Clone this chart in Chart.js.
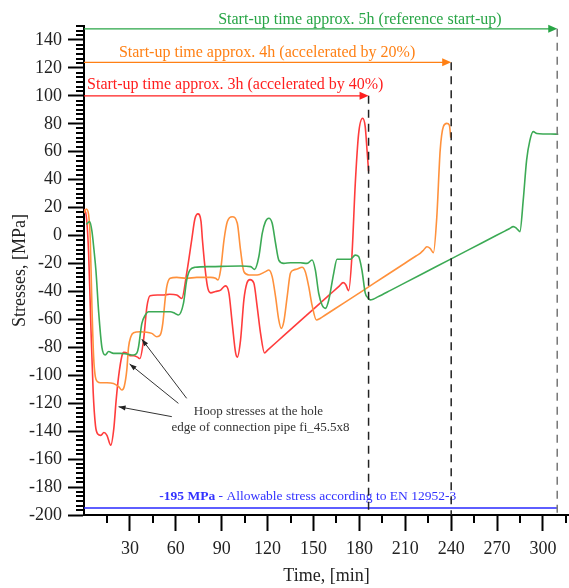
<!DOCTYPE html>
<html><head><meta charset="utf-8">
<script src="https://cdn.jsdelivr.net/npm/chart.js@4.4.0/dist/chart.umd.min.js"></script>
<style>html,body{margin:0;padding:0;background:#fff;}#wrap{width:569px;height:588px;position:relative;}</style>
</head><body><div id="wrap"><canvas id="c" width="569" height="588"></canvas></div>
<script>
// ---- data (time in min, stress in MPa) ----
const redTime = [0,1.5,3,4.5,6,7.5,9,11,13,15,17.5,19.5,21,22.6,24.8,26,28,30,32.4,35,36.5,38.9,41.1,43.2,48,52,56,60.6,63.9,67.1,70.4,72.5,74.5,76.5,77.4,79.5,81,82.8,86,89.3,91.5,92.6,94.7,96.9,99.1,100.2,102.3,104.5,106.5,108.5,111,113.2,115.4,118,120,130,145,160,167,169.3,171,173,175.1,177.3,179.5,182.1,183.8,185,186];
const redStress = [19,14,-12,-65,-112,-136,-142,-143,-141,-143,-150,-138,-118,-101,-86,-83.6,-84,-86,-86,-87,-88,-75,-51,-43,-42.5,-42.5,-42,-42.5,-45,-27,-3,12,15.5,10,-3,-27,-38,-41,-40,-39,-36.5,-36,-41,-63,-84,-87,-75,-46,-34,-31.5,-34,-51,-70,-84,-82,-72.2,-57.5,-42.8,-36,-33.7,-35,-39.4,-15,37,73,84,78,61,46];

const orangeTime = [0,1.5,3,4.1,5.2,6.3,7.4,8.9,10.7,15,19.3,22.6,24.8,26.3,28,29.1,30.6,32.4,36.7,44.3,47.6,49.8,51.5,53,54.1,56.3,60.6,67.1,73.7,82.8,86,87.6,89.3,91.5,93.7,96.9,100.2,102.3,104.5,107.8,113.2,118.6,120.8,123,125.2,127.3,128.9,130.6,132.8,134.9,137.1,139.3,142.5,144.7,146.9,149.1,151.9,154.5,157,170,190,210,217,219.7,222,224.1,226.2,228.4,230.6,232.8,234.9,237.1,238.8,239.7];
const orangeStress = [16,19,15,-3,-51,-87,-101,-104.6,-105.3,-105.3,-105.8,-108.1,-110.5,-108,-96,-80,-72.4,-69.5,-68.8,-70,-72.4,-71.2,-62.8,-46,-36.6,-30.6,-29.9,-30.6,-29.9,-29.9,-30.6,-31.8,-24.6,-3.2,10,13.5,8.8,-10.3,-25.8,-28.2,-28.2,-25.8,-24.6,-29.4,-43.7,-60.4,-66.4,-61.6,-43.7,-27,-24.6,-24,-22.7,-26,-36.6,-50,-60.4,-59.2,-57.4,-48.2,-33.9,-19.6,-14.6,-12.7,-10.3,-8,-9.1,-12.2,13.5,61,78,80.3,79,70];

const greenTime = [1.5,3.7,5.2,6.5,7.8,9.6,11.7,13.9,16.1,19.3,23.7,28,32.4,34.6,35.6,37.8,40,42.2,47.6,56.3,59.5,61.7,65,67.1,69.3,72.6,82.8,102.3,108.9,111.5,114.3,116.5,118.6,120.8,123,125.2,127.3,130.6,134.9,141.5,145.8,149.1,151.2,153.4,155.6,157.8,160,163.2,165.4,167.5,174.1,177.3,179.5,181.7,183.8,185.5,187,189,192,200,220,240,260,275,278,280.6,282.7,284.9,287.1,289.3,291.4,293.6,296,300,305,310];
const greenStress = [8,10,3,-10,-25,-55,-80,-85.5,-83,-84.3,-84.3,-84.8,-85.5,-84,-80,-63,-57,-54.5,-54.5,-54.5,-55.7,-56.8,-48.5,-32,-24.6,-22.7,-22.2,-21.8,-22.2,-24.2,-15,1.6,10,12.4,8.8,-5.5,-17.5,-19.9,-19.4,-19.5,-19.9,-17.5,-24.6,-41.3,-49.7,-52.1,-46.1,-27,-17,-17,-17,-14,-15,-25,-41,-44.5,-46,-45.5,-43.9,-39.4,-28,-16.7,-5.3,3.2,4.9,6.4,5.2,2.8,25.5,54,68,74.4,73,72.7,72.7,72.5];

const xTickLabels = [30,60,90,120,150,180,210,240,270,300];
const yTickLabels = [-200,-180,-160,-140,-120,-100,-80,-60,-40,-20,0,20,40,60,80,100,120,140];

const allowableStress = -195;
const startupEnd = [186, 240, 309.3];          // minutes: 3h, 4h, 5h
const startupLevel = [100, 124, 148];           // arrow heights (MPa)
const startupText = ["Start-up time approx. 3h (accelerated by 40%)","Start-up time approx. 4h (accelerated by 20%)","Start-up time approx. 5h (reference start-up)"];
const startupTextPos = [[2,107.8],[22.8,130.7],[87.7,154.3]];
const hoopLines = ["Hoop stresses at the hole","edge of connection pipe fi_45.5x8"];
const hoopTextPos = [[114,-126],[115.4,-137.7]];
const hoopArrows = [[57.4,-129.6,22.6,-122.5],[61.7,-120.1,29.8,-91.9],[67.1,-116.5,37.8,-74.2]];
const allowText = ["-195 MPa"," - Allowable stress according to EN 12952-3"];
const allowTextPos = [49.2,-186.9];

const SERIF = "'Liberation Serif','Times New Roman',serif";
const COL_RED = 'rgb(255,60,60)', COL_OR = 'rgb(255,145,60)', COL_GR = 'rgb(60,170,85)';
const TXT = [ 'rgb(255,30,30)', 'rgb(255,128,20)', 'rgb(40,165,70)' ];
const DASH = ['#222','#222','#777'];

function pts(t, s){ return t.map((v,i)=>({x:v,y:s[i]})); }

function arrowHead(ctx, x1,y1,x2,y2,len,half,color){
  const a = Math.atan2(y2-y1,x2-x1);
  ctx.save(); ctx.fillStyle=color; ctx.beginPath();
  ctx.moveTo(x2,y2);
  ctx.lineTo(x2-len*Math.cos(a)+half*Math.sin(a), y2-len*Math.sin(a)-half*Math.cos(a));
  ctx.lineTo(x2-len*Math.cos(a)-half*Math.sin(a), y2-len*Math.sin(a)+half*Math.cos(a));
  ctx.closePath(); ctx.fill(); ctx.restore();
}

const decor = {
  id:'decor',
  afterDatasetsDraw(chart){
    const ctx = chart.ctx, xs = chart.scales.x, ys = chart.scales.y;
    const X = v=>xs.getPixelForValue(v), Y = v=>ys.getPixelForValue(v);
    ctx.save();
    ctx.strokeStyle='rgb(40,40,255)'; ctx.lineWidth=1.5;
    ctx.beginPath(); ctx.moveTo(X(0),Y(allowableStress)); ctx.lineTo(X(startupEnd[2]),Y(allowableStress)); ctx.stroke();
    ctx.textBaseline='middle'; ctx.textAlign='left';
    ctx.fillStyle='rgb(50,50,255)';
    ctx.font = "bold 13.5px "+SERIF;
    let tx = X(allowTextPos[0]);
    ctx.fillText(allowText[0], tx, Y(allowTextPos[1]));
    tx += ctx.measureText(allowText[0]).width;
    ctx.font = "13.5px "+SERIF;
    ctx.fillText(allowText[1], tx, Y(allowTextPos[1]));
    for(let i=0;i<3;i++){
      const xe = X(startupEnd[i]), yl = Y(startupLevel[i]);
      ctx.setLineDash([8,6]); ctx.strokeStyle=DASH[i]; ctx.lineWidth=1.5;
      ctx.beginPath(); ctx.moveTo(xe,yl); ctx.lineTo(xe,Y(-200)); ctx.stroke();
      ctx.setLineDash([]);
      ctx.strokeStyle=TXT[i]; ctx.lineWidth=1.3;
      ctx.beginPath(); ctx.moveTo(X(0),yl); ctx.lineTo(xe-6,yl); ctx.stroke();
      arrowHead(ctx, X(0),yl, xe,yl, 9,4, TXT[i]);
      ctx.fillStyle=TXT[i]; ctx.font="16px "+SERIF;
      ctx.fillText(startupText[i], X(startupTextPos[i][0]), Y(startupTextPos[i][1]));
    }
    ctx.strokeStyle='#333'; ctx.lineWidth=1;
    hoopArrows.forEach(a=>{
      const x1=X(a[0]),y1=Y(a[1]),x2=X(a[2]),y2=Y(a[3]);
      ctx.beginPath(); ctx.moveTo(x1,y1); ctx.lineTo(x2,y2); ctx.stroke();
      arrowHead(ctx,x1,y1,x2,y2,7,2.5,'#222');
    });
    ctx.fillStyle='#333'; ctx.font="13px "+SERIF; ctx.textAlign='center';
    hoopLines.forEach((t,i)=>ctx.fillText(t, X(hoopTextPos[i][0]), Y(hoopTextPos[i][1])));
    ctx.restore();
  },
  afterDraw(chart){
    const ctx = chart.ctx, xs = chart.scales.x, ys = chart.scales.y;
    const ax = chart.chartArea.left, ay = chart.chartArea.bottom;
    ctx.save(); ctx.strokeStyle='#000'; ctx.lineWidth=2;
    ctx.beginPath();
    for(let k=1;k<=105;k++){
      if(k%6===0) continue;
      const v = -200 + k*20/6; if(v>150.01) break;
      const p = Math.round(ys.getPixelForValue(v));
      ctx.moveTo(ax-8,p); ctx.lineTo(ax,p);
    }
    for(let v=15; v<=317; v+=30){
      const p = Math.round(xs.getPixelForValue(v));
      ctx.moveTo(p,ay); ctx.lineTo(p,ay+8);
    }
    ctx.stroke(); ctx.restore();
  }
};

const ds = (label,t,s,c)=>({label, data:pts(t,s), borderColor:c, borderWidth:1.6, pointRadius:0, fill:false, cubicInterpolationMode:'monotone', tension:0.4});

new Chart(document.getElementById('c'), {
  type:'line',
  data:{ datasets:[
    ds('5h',greenTime,greenStress,COL_GR),
    ds('4h',orangeTime,orangeStress,COL_OR),
    ds('3h',redTime,redStress,COL_RED)
  ]},
  options:{
    responsive:false, animation:false,
    layout:{padding:{top:26,left:0,right:0,bottom:0}},
    plugins:{legend:{display:false}, tooltip:{enabled:false}},
    scales:{
      x:{ type:'linear', min:0, max:317,
        afterBuildTicks:s=>{ s.ticks = xTickLabels.map(v=>({value:v})); },
        afterFit:s=>{ s.height = 73; },
        ticks:{ font:{family:SERIF,size:18}, color:'#222', padding:7, maxRotation:0, autoSkip:false },
        grid:{ display:true, drawOnChartArea:false, drawTicks:true, tickLength:16, tickWidth:2, color:'#000' },
        border:{ display:true, color:'#000', width:2 },
        title:{ display:true, text:'Time, [min]', font:{family:SERIF,size:18}, color:'#222', padding:{top:0,bottom:1} }
      },
      y:{ type:'linear', min:-200, max:150,
        afterBuildTicks:s=>{ s.ticks = yTickLabels.map(v=>({value:v})); },
        afterFit:s=>{ s.width = 84; },
        ticks:{ font:{family:SERIF,size:18}, color:'#222', padding:6, autoSkip:false },
        grid:{ display:true, drawOnChartArea:false, drawTicks:true, tickLength:16, tickWidth:2, color:'#000' },
        border:{ display:true, color:'#000', width:2 },
        title:{ display:true, text:'Stresses, [MPa]', font:{family:SERIF,size:18}, color:'#222', padding:{top:9,bottom:0} }
      }
    }
  },
  plugins:[decor]
});
</script></body></html>
